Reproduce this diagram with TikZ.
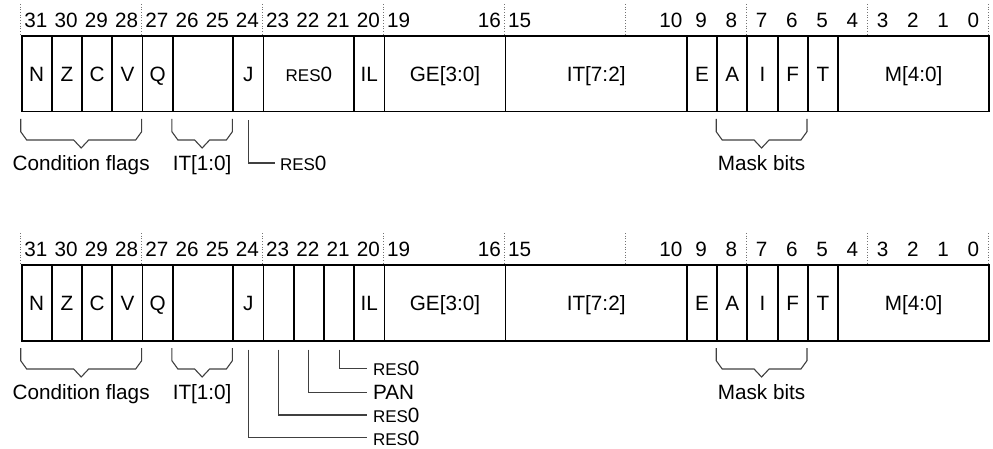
\documentclass[tikz,border=0pt]{standalone}
\usepackage{fontspec}
\setmainfont{Liberation Sans}
\usetikzlibrary{calc}
\newcommand\resz{{\fontsize{17}{18}\selectfont RES}0}
\newcommand\regcells[2]{%
  \foreach \n/\h/\l/\t in {N/31/31/N,Z/30/30/Z,C/29/29/C,V/28/28/V,Q/27/27/Q,ITlo/26/25/{},J/24/24/J,IL/20/20/IL,GE/19/16/{GE[3:0]},IThi/15/10/{IT[7:2]},E/9/9/E,A/8/8/A,I/7/7/I,F/6/6/F,T/5/5/T,M/4/0/{M[4:0]}}{%
    \pgfmathsetmacro\w{(\h-\l+1)*30.24}%
    \pgfmathsetmacro\xx{20.7+(31-\h)*30.24}%
    \node[cell, minimum width=\w pt] (#1\n) at (\xx,#2+35) {\t};
  }%
  \foreach \b in {31,30,29,28,27,26,25,24,23,22,21,20,19,16,15,10,9,8,7,6,5,4,3,2,1,0}{%
    \node[bitnum] (#1n\b) at ({20.7+(31.5-\b)*30.24},#2+20.5) {\b};
  }%
  \foreach \b in {31,27,23,19,15,11,7,3,-1}{%
    \draw[guide] ({20.7+(31-\b)*30.24},#2+4) -- ({20.7+(31-\b)*30.24},#2+35);
  }%
}
\newcommand\grp[6]{%
  \pgfmathsetmacro\xa{20.7+(31-#2)*30.24}%
  \pgfmathsetmacro\xb{20.7+(32-#3)*30.24}%
  \pgfmathsetmacro\xm{(\xa+\xb)/2}%
  \draw[brk] (\xa,#4+119) -- (\xa,#4+131.7) -- (\xa+6,#4+140) -- (\xm-7.5,#4+140) -- (\xm,#4+148) -- (\xm+7.5,#4+140) -- (\xb-6,#4+140) -- (\xb,#4+131.7) -- (\xb,#4+119);
  \node[lbl] (#1#6) at (\xm,#4+163) {#5};
}
\begin{document}
\begin{tikzpicture}[x=1pt,y=-1pt,
  cell/.style={draw=black, line width=1.8pt, inner sep=0pt, minimum height=75.7pt,
    anchor=north west, font=\fontsize{20.7}{22}\selectfont, text height=14.8pt, text depth=0pt},
  bitnum/.style={inner sep=0pt, font=\fontsize{20.7}{22}\selectfont, text height=14.8pt, text depth=0pt},
  lbl/.style={inner sep=0pt, outer sep=0pt, font=\fontsize{20.7}{22}\selectfont, text height=14.8pt, text depth=0pt},
  brk/.style={draw=black!75, line width=1.1pt},
  lead/.style={draw=black!75, line width=1.1pt},
  guide/.style={draw=black!55, dotted, line width=0.7pt}]
\useasboundingbox (0,0) rectangle (993,449);
% ---- top register ----
\regcells{t}{0}
\node[cell, minimum width=90.72pt] (tR) at ({20.7+8*30.24},35) {\resz};
\grp{t}{31}{28}{0}{Condition flags}{cond}
\grp{t}{26}{25}{0}{IT[1:0]}{itl}
\grp{t}{8}{6}{0}{Mask bits}{mask}
\node[lbl, anchor=west] (tlJ) at (280,163) {\resz};
\draw[lead] ([yshift=-8pt]tJ.south) |- ([xshift=-5pt]tlJ.west);
% ---- bottom register ----
\regcells{b}{229}
\node[cell, minimum width=30.24pt] (bR23) at ({20.7+8*30.24},264) {};
\node[cell, minimum width=30.24pt] (bR22) at ({20.7+9*30.24},264) {};
\node[cell, minimum width=30.24pt] (bR21) at ({20.7+10*30.24},264) {};
\grp{b}{31}{28}{229}{Condition flags}{cond}
\grp{b}{26}{25}{229}{IT[1:0]}{itl}
\grp{b}{8}{6}{229}{Mask bits}{mask}
\node[lbl, anchor=west] (bl21) at (373,368.3) {\resz};
\node[lbl, anchor=west] (bl22) at (373,392.3) {PAN};
\node[lbl, anchor=west] (bl23) at (373,415) {\resz};
\node[lbl, anchor=west] (bl24) at (373,437.7) {\resz};
\draw[lead] ([yshift=-8pt]bR21.south) |- ([xshift=-6pt]bl21.west);
\draw[lead] ([yshift=-8pt]bR22.south) |- ([xshift=-6pt]bl22.west);
\draw[lead] ([yshift=-8pt]bR23.south) |- ([xshift=-6pt]bl23.west);
\draw[lead] ([yshift=-8pt]bJ.south) |- ([xshift=-6pt]bl24.west);
\end{tikzpicture}
\end{document}
